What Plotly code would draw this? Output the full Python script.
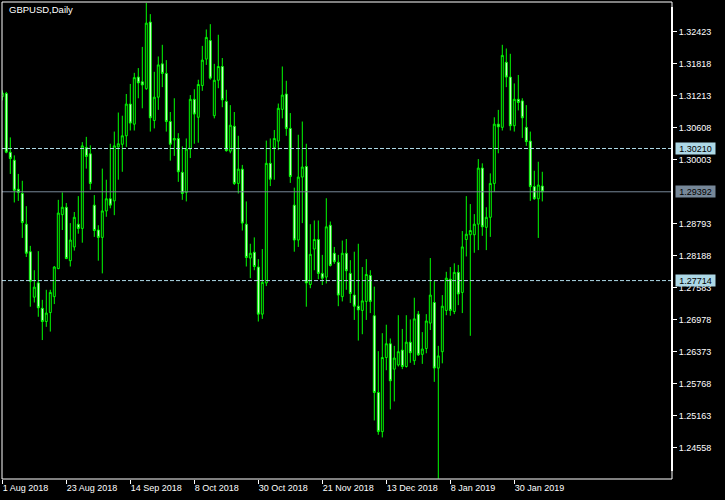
import plotly.graph_objects as go
import pandas as pd

# trading days (broker had no bars on 25 Dec and 1 Jan)
dates = [d.strftime('%Y-%m-%d') for d in pd.bdate_range('2018-08-01', '2019-02-08')
         if d.strftime('%Y-%m-%d') not in ('2018-12-25', '2019-01-01')]

opens = [1.3119, 1.3125, 1.3014, 1.2999, 1.2944, 1.2936, 1.2878, 1.2826, 1.2740, 1.2767,
         1.2719, 1.2694, 1.2711, 1.2741, 1.2794, 1.2896, 1.2910, 1.2809, 1.2835, 1.2878,
         1.2870, 1.3023, 1.3011, 1.2914, 1.2867, 1.2853, 1.2903, 1.2926, 1.2922, 1.3024,
         1.3029, 1.3045, 1.3105, 1.3067, 1.3156, 1.3147, 1.3134, 1.3260, 1.3074, 1.3118,
         1.3181, 1.3163, 1.3072, 1.3037, 1.3040, 1.2976, 1.2938, 1.3020, 1.3114, 1.3080,
         1.3140, 1.3190, 1.3225, 1.3083, 1.3150, 1.3176, 1.3110, 1.3016, 1.3063, 1.2955,
         1.2982, 1.2878, 1.2814, 1.2825, 1.2797, 1.2708, 1.2767, 1.2993, 1.3023, 1.3035,
         1.3095, 1.3124, 1.3059, 1.2914, 1.2848, 1.2967, 1.2987, 1.2764, 1.2831, 1.2849,
         1.2785, 1.2778, 1.2876, 1.2823, 1.2806, 1.2741, 1.2823, 1.2785, 1.2744, 1.2723,
         1.2715, 1.2732, 1.2781, 1.2705, 1.2560, 1.2486, 1.2626, 1.2652, 1.2604, 1.2612,
         1.2640, 1.2609, 1.2655, 1.2620, 1.2708, 1.2632, 1.2643, 1.2691, 1.2730, 1.2606,
         1.2637, 1.2715, 1.2774, 1.2713, 1.2787, 1.2749, 1.2849, 1.2858, 1.2858, 1.2878,
         1.2984, 1.2872, 1.2891, 1.2955, 1.3067, 1.3061, 1.3184, 1.3156, 1.3064, 1.3114,
         1.3111, 1.3061, 1.3035, 1.2949, 1.2926, 1.2950]
highs = [1.3131, 1.3128, 1.3042, 1.3008, 1.2973, 1.2960, 1.2912, 1.2837, 1.2791, 1.2827,
         1.2735, 1.2754, 1.2754, 1.2799, 1.2924, 1.2938, 1.2918, 1.2880, 1.2901, 1.2931,
         1.3033, 1.3043, 1.3027, 1.2933, 1.2876, 1.2983, 1.2962, 1.3030, 1.3053, 1.3089,
         1.3083, 1.3124, 1.3143, 1.3164, 1.3173, 1.3213, 1.3296, 1.3275, 1.3166, 1.3195,
         1.3217, 1.3188, 1.3090, 1.3116, 1.3050, 1.3025, 1.3040, 1.3122, 1.3133, 1.3151,
         1.3215, 1.3246, 1.3256, 1.3181, 1.3236, 1.3192, 1.3132, 1.3103, 1.3090, 1.3045,
         1.2990, 1.2921, 1.2841, 1.2853, 1.2812, 1.2831, 1.3036, 1.3040, 1.3056, 1.3106,
         1.3176, 1.3149, 1.3088, 1.2947, 1.3047, 1.3072, 1.3030, 1.2878, 1.2885, 1.2885,
         1.2820, 1.2927, 1.2883, 1.2835, 1.2820, 1.2847, 1.2850, 1.2810, 1.2826, 1.2841,
         1.2797, 1.2812, 1.2791, 1.2760, 1.2638, 1.2672, 1.2688, 1.2662, 1.2648, 1.2706,
         1.2680, 1.2706, 1.2698, 1.2739, 1.2714, 1.2674, 1.2708, 1.2814, 1.2771, 1.2648,
         1.2744, 1.2788, 1.2797, 1.2804, 1.2801, 1.2865, 1.2931, 1.2916, 1.2897, 1.3001,
         1.2993, 1.2910, 1.2974, 1.3080, 1.3094, 1.3217, 1.3210, 1.3200, 1.3144, 1.3160,
         1.3116, 1.3103, 1.3053, 1.2979, 1.2996, 1.2977]
lows = [1.3112, 1.3012, 1.2973, 1.2919, 1.2922, 1.2852, 1.2816, 1.2722, 1.2730, 1.2703,
        1.2659, 1.2684, 1.2675, 1.2727, 1.2793, 1.2867, 1.2812, 1.2798, 1.2828, 1.2860,
        1.2843, 1.2983, 1.2943, 1.2854, 1.2809, 1.2785, 1.2892, 1.2908, 1.2895, 1.2962,
        1.2977, 1.3024, 1.3055, 1.3055, 1.3116, 1.3097, 1.3132, 1.3053, 1.3059, 1.3094,
        1.3137, 1.3053, 1.2998, 1.3007, 1.2958, 1.2924, 1.2921, 1.3003, 1.3030, 1.3032,
        1.3130, 1.3179, 1.3151, 1.3078, 1.3135, 1.3099, 1.3015, 1.3012, 1.2952, 1.2936,
        1.2866, 1.2798, 1.2776, 1.2791, 1.2694, 1.2699, 1.2761, 1.2950, 1.2962, 1.3018,
        1.3078, 1.3045, 1.2956, 1.2826, 1.2835, 1.2880, 1.2722, 1.2757, 1.2791, 1.2774,
        1.2763, 1.2766, 1.2798, 1.2803, 1.2723, 1.2732, 1.2754, 1.2729, 1.2697, 1.2658,
        1.2670, 1.2697, 1.2710, 1.2507, 1.2480, 1.2475, 1.2602, 1.2528, 1.2543, 1.2609,
        1.2604, 1.2607, 1.2616, 1.2612, 1.2629, 1.2614, 1.2634, 1.2678, 1.2580, 1.2397,
        1.2615, 1.2706, 1.2705, 1.2708, 1.2725, 1.2710, 1.2817, 1.2667, 1.2824, 1.2829,
        1.2856, 1.2829, 1.2854, 1.2939, 1.3012, 1.3055, 1.3137, 1.3055, 1.3053, 1.3093,
        1.3041, 1.3026, 1.2922, 1.2924, 1.2852, 1.2921]
closes = [1.3126, 1.3014, 1.3002, 1.2942, 1.2938, 1.2881, 1.2823, 1.2770, 1.2759, 1.2720,
          1.2694, 1.2710, 1.2749, 1.2797, 1.2899, 1.2910, 1.2813, 1.2848, 1.2891, 1.2870,
          1.3026, 1.3006, 1.2955, 1.2866, 1.2853, 1.2903, 1.2926, 1.2914, 1.3026, 1.3030,
          1.3045, 1.3105, 1.3069, 1.3155, 1.3145, 1.3141, 1.3258, 1.3079, 1.3118, 1.3179,
          1.3163, 1.3072, 1.3029, 1.3040, 1.2977, 1.2936, 1.3020, 1.3114, 1.3086, 1.3142,
          1.3188, 1.3231, 1.3154, 1.3150, 1.3176, 1.3113, 1.3017, 1.3065, 1.2955, 1.2982,
          1.2880, 1.2815, 1.2823, 1.2798, 1.2708, 1.2768, 1.2993, 1.2963, 1.3040, 1.3097,
          1.3122, 1.3059, 1.2968, 1.2848, 1.2967, 1.2986, 1.2767, 1.2821, 1.2849, 1.2785,
          1.2776, 1.2873, 1.2800, 1.2807, 1.2744, 1.2823, 1.2790, 1.2747, 1.2723, 1.2716,
          1.2733, 1.2783, 1.2732, 1.2560, 1.2486, 1.2626, 1.2652, 1.2582, 1.2625, 1.2637,
          1.2609, 1.2655, 1.2635, 1.2699, 1.2631, 1.2642, 1.2695, 1.2744, 1.2606, 1.2629,
          1.2723, 1.2776, 1.2715, 1.2787, 1.2746, 1.2835, 1.2859, 1.2866, 1.2878, 1.2984,
          1.2873, 1.2891, 1.2955, 1.3067, 1.3062, 1.3197, 1.3156, 1.3064, 1.3114, 1.3108,
          1.3079, 1.3034, 1.2949, 1.2926, 1.2952, 1.29392]

x_tick_labels = ['1 Aug 2018', '23 Aug 2018', '14 Sep 2018', '8 Oct 2018', '30 Oct 2018',
                 '21 Nov 2018', '13 Dec 2018', '8 Jan 2019', '30 Jan 2019']
x_tick_dates = dates[::16][:len(x_tick_labels)]
y_ticks = [1.32423, 1.31818, 1.31213, 1.30608, 1.30003, 1.28793, 1.28188, 1.27583,
           1.26978, 1.26373, 1.25768, 1.25163, 1.24558]
level_lines = [1.30210, 1.27714]
bid_price = 1.29392
y_min, y_max = 1.23964, 1.32979

W, H = 725, 500
ML, MR, MT, MB = 2, 53, 2, 21
PW, PH = W - ML - MR, H - MT - MB
BAR_PX = 4.0
x0 = -0.3 / BAR_PX

FONT = 'Liberation Sans, Arial, sans-serif'
GREEN = '#00ff00'
LBLUE = '#add8e6'
SLATE = '#778899'

fig = go.Figure(go.Candlestick(
    x=dates, open=opens, high=highs, low=lows, close=closes,
    increasing=dict(line=dict(color=GREEN, width=1), fillcolor='#000000'),
    decreasing=dict(line=dict(color=GREEN, width=1), fillcolor='#ffffff'),
    whiskerwidth=0, hoverinfo='none'))

shapes = []
for lv in level_lines:
    shapes.append(dict(type='line', xref='paper', yref='y', x0=0, x1=1, y0=lv, y1=lv,
                       line=dict(color=LBLUE, width=1, dash='4px,2px'), layer='above'))
shapes.append(dict(type='line', xref='paper', yref='y', x0=0, x1=1, y0=bid_price, y1=bid_price,
                   line=dict(color=SLATE, width=1), layer='above'))
shapes.append(dict(type='rect', xref='paper', yref='paper', x0=0, x1=1, y0=0, y1=1,
                   line=dict(color='#ffffff', width=1), layer='above'))
shapes.append(dict(type='line', xref='paper', yref='paper', x0=1, x1=1,
                   y0=1 - (471 - MT) / PH, y1=1 - (7 - MT) / PH,
                   line=dict(color='#ffffff', width=2), layer='above'))

annotations = [dict(text='GBPUSD,Daily', xref='paper', yref='paper',
                    x=(7 - ML) / PW, y=1 - (10 - MT) / PH, xanchor='left', yanchor='middle',
                    showarrow=False, font=dict(family=FONT, size=9.5, color='#ffffff'))]
for lv, bg in [(level_lines[0], LBLUE), (bid_price, SLATE), (level_lines[1], LBLUE)]:
    annotations.append(dict(text='%.5f' % lv, xref='paper', yref='y',
                            x=(675 - ML) / PW, y=lv, xanchor='left', yanchor='middle',
                            showarrow=False, bgcolor=bg, borderpad=1, width=37, height=9,
                            font=dict(family=FONT, size=9, color='#000000')))

fig.update_layout(
    width=W, height=H, margin=dict(l=ML, r=MR, t=MT, b=MB),
    paper_bgcolor='#000000', plot_bgcolor='#000000', showlegend=False,
    shapes=shapes, annotations=annotations,
    xaxis=dict(type='category', range=[x0, x0 + PW / BAR_PX], tickvals=x_tick_dates,
               ticktext=x_tick_labels, ticks='outside', ticklen=4, tickcolor='#ffffff',
               tickwidth=1, ticklabelposition='outside right',
               tickfont=dict(family=FONT, size=9, color='#ffffff'),
               showgrid=False, zeroline=False, showline=False,
               rangeslider=dict(visible=False), fixedrange=True),
    yaxis=dict(side='right', range=[y_min, y_max], tickvals=y_ticks,
               ticktext=['%.5f' % v for v in y_ticks], ticks='outside', ticklen=4,
               tickcolor='#ffffff', tickwidth=1,
               tickfont=dict(family=FONT, size=9, color='#ffffff'),
               showgrid=False, zeroline=False, showline=False, fixedrange=True),
)

fig.write_html('out.html', config={'displayModeBar': False},
               post_script="document.body.style.margin='0';document.body.style.background='#000';")
